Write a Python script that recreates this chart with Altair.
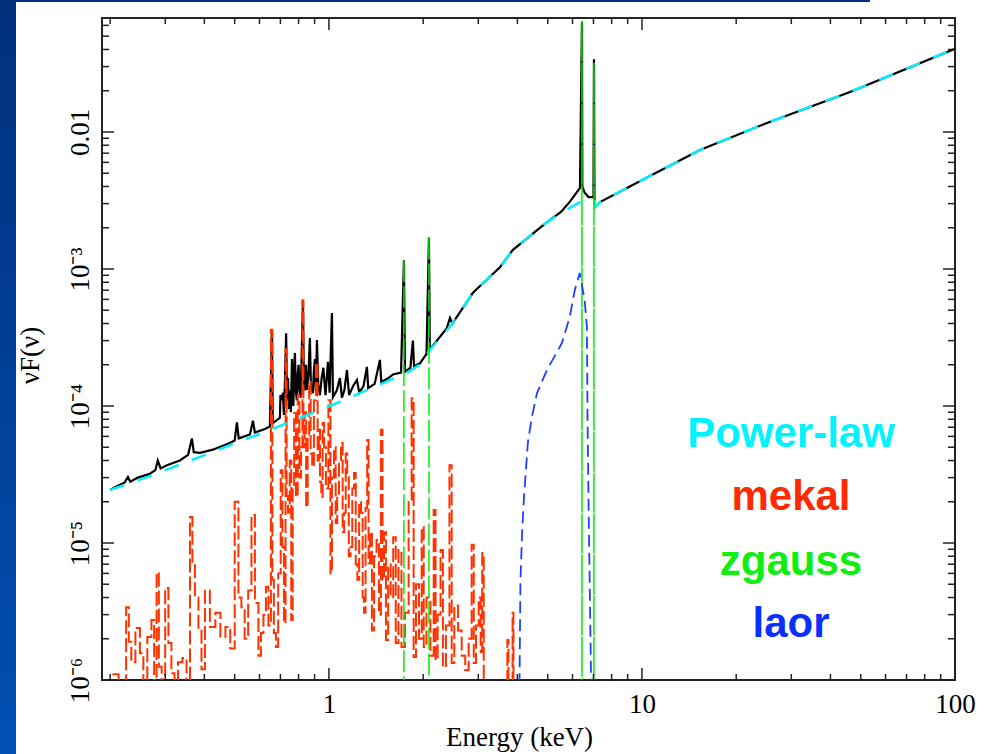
import altair as alt
import pandas as pd

# ---------------- data (energy keV, nuF(nu)) ----------------
powerlaw = [
    (0.200, 2.44e-5), (0.268, 3.08e-5), (0.3873, 4.25e-5), (0.494, 5.28e-5),
    (0.648, 6.68e-5), (0.808, 8.17e-5), (1.007, 1.0e-4), (1.11, 1.1e-4),
    (1.49, 1.47e-4), (1.77, 1.74e-4), (1.95, 2.0e-4), (2.10, 2.56e-4),
    (2.43, 3.77e-4), (2.88, 6.68e-4), (3.52, 1.03e-3), (3.87, 1.38e-3),
    (4.97, 2.2e-3), (5.88, 2.79e-3), (6.34, 3.08e-3), (7.05, 3.2e-3),
    (7.10, 2.84e-3), (7.34, 3.08e-3), (10.6, 4.77e-3), (15.32, 7.39e-3),
    (25.08, 1.164e-2), (46.2, 1.96e-2), (100.0, 4.05e-2),
]

total = [
    (0.200, 2.44e-5), (0.210, 2.6e-5), (0.222, 2.75e-5), (0.228, 3.03e-5),
    (0.232, 2.8e-5), (0.2453, 3.0e-5), (0.268, 3.2e-5), (0.279, 3.4e-5),
    (0.284, 4.0e-5), (0.290, 3.5e-5), (0.3038, 3.7e-5), (0.334, 4.0e-5),
    (0.355, 4.4e-5), (0.365, 5.8e-5), (0.370, 4.6e-5), (0.3873, 4.55e-5),
    (0.4258, 4.8e-5), (0.4758, 5.3e-5), (0.500, 5.6e-5), (0.5082, 7.6e-5),
    (0.515, 5.8e-5), (0.5594, 6.2e-5), (0.5719, 7.8e-5), (0.580, 6.4e-5),
    (0.6246, 6.8e-5), (0.6478, 7.1e-5), (0.6575, 3.65e-4), (0.6620, 7.5e-5),
    (0.6973, 8.2e-5), (0.7000, 1.2e-4), (0.7078, 1.1e-4), (0.7130, 1.25e-4),
    (0.7182, 8.6e-5), (0.7240, 1.6e-4), (0.7300, 3.4e-4), (0.7350, 1.1e-4),
    (0.7400, 1.6e-4), (0.7450, 9.5e-5), (0.7508, 1.3e-4), (0.7560, 9.0e-5),
    (0.7620, 2.2e-4), (0.7660, 1.2e-4), (0.7700, 1.0e-4), (0.7740, 1.9e-4),
    (0.7788, 2.44e-4), (0.7840, 1.3e-4), (0.7900, 1.1e-4), (0.7950, 1.7e-4),
    (0.8000, 2.0e-4), (0.8060, 1.3e-4), (0.8120, 1.15e-4), (0.8180, 2.3e-4),
    (0.826, 5.94e-4), (0.8320, 1.5e-4), (0.8381, 1.3e-4), (0.8440, 2.0e-4),
    (0.8506, 1.31e-4), (0.8600, 1.7e-4), (0.8694, 3.13e-4), (0.8760, 1.4e-4),
    (0.889, 1.24e-4), (0.8950, 1.8e-4), (0.902, 2.2e-4), (0.9080, 1.3e-4),
    (0.9155, 3.03e-4), (0.9250, 1.4e-4), (0.9359, 1.2e-4), (0.9480, 1.6e-4),
    (0.960, 1.9e-4), (0.975, 1.2e-4), (0.9927, 2.1e-4), (1.0050, 1.25e-4),
    (1.0223, 4.77e-4), (1.030, 1.16e-4), (1.0600, 1.3e-4), (1.0843, 1.6e-4),
    (1.100, 1.15e-4), (1.1200, 1.3e-4), (1.1417, 1.83e-4), (1.160, 1.2e-4),
    (1.1950, 1.4e-4), (1.229, 1.55e-4), (1.250, 1.25e-4), (1.2900, 1.4e-4),
    (1.3225, 1.93e-4), (1.335, 1.35e-4), (1.400, 1.45e-4), (1.455, 2.17e-4),
    (1.470, 1.5e-4), (1.5500, 1.6e-4), (1.6015, 1.7e-4), (1.700, 1.75e-4),
    (1.736, 1.16e-3), (1.750, 1.78e-4), (1.820, 1.9e-4), (1.855, 3.0e-4),
    (1.870, 1.95e-4), (1.953, 2.05e-4), (2.050, 2.4e-4), (2.087, 1.7e-3),
    (2.100, 2.6e-4), (2.200, 2.95e-4), (2.380, 3.7e-4), (2.436, 4.4e-4),
    (2.480, 4.0e-4), (2.884, 6.7e-4), (3.518, 1.03e-3), (3.871, 1.38e-3),
    (4.972, 2.2e-3), (5.500, 2.6e-3), (5.888, 3.1e-3), (6.338, 3.9e-3),
    (6.432, 0.064), (6.450, 4.0e-3), (6.560, 3.6e-3), (6.750, 3.35e-3),
    (7.000, 3.35e-3), (7.025, 0.034), (7.050, 3.3e-3), (7.077, 2.84e-3),
    (7.340, 3.08e-3), (10.6, 4.77e-3), (15.32, 7.39e-3), (25.08, 1.164e-2),
    (46.2, 1.96e-2), (100.0, 4.05e-2),
]

mekal = [
    (0.190, 7e-7), (0.200, 9e-7), (0.210, 1.1e-6), (0.216, 6e-7), (0.222, 8e-7),
    (0.228, 3.4e-6), (0.231, 1.9e-6), (0.2365, 1.35e-6), (0.2453, 2.4e-6),
    (0.2527, 1.57e-6), (0.258, 8e-7), (0.268, 2.06e-6), (0.274, 2.74e-6),
    (0.279, 9e-7), (0.284, 6.1e-6), (0.2884, 1.25e-6), (0.296, 8e-7),
    (0.3038, 4.7e-6), (0.3105, 1.86e-6), (0.3174, 1.12e-6), (0.325, 8e-7),
    (0.334, 1.35e-6), (0.3467, 1.45e-6), (0.355, 9e-7), (0.365, 1.55e-5),
    (0.3677, 7.1e-6), (0.3787, 4.0e-6), (0.3873, 2.3e-6), (0.396, 1.2e-6),
    (0.4076, 4.5e-6), (0.4258, 2.44e-6), (0.4418, 3.1e-6), (0.4584, 2.06e-6),
    (0.4758, 2.44e-6), (0.492, 1.7e-6), (0.5082, 2.0e-5), (0.5196, 4.0e-6),
    (0.531, 3.4e-6), (0.545, 2.0e-6), (0.5594, 4.5e-6), (0.5719, 1.6e-5),
    (0.5888, 3.65e-6), (0.602, 1.5e-6), (0.611, 2.2e-6), (0.6246, 3.0e-6),
    (0.6338, 4.8e-6), (0.6478, 2.5e-6), (0.6575, 3.6e-4), (0.6620, 5.4e-6),
    (0.6720, 2.2e-6), (0.6820, 1.74e-6), (0.6950, 6.0e-6), (0.7078, 3.4e-5),
    (0.7130, 9.35e-6), (0.7235, 2.6e-6), (0.7300, 2.6e-4), (0.7350, 2.2e-5),
    (0.745, 1.66e-5), (0.7540, 4.0e-5), (0.7619, 2.74e-6), (0.7700, 2.5e-5),
    (0.7788, 8.9e-5), (0.790, 2.17e-5), (0.800, 1.2e-4), (0.810, 3.0e-5),
    (0.8198, 5.0e-5), (0.826, 5.9e-4), (0.832, 5.0e-5), (0.841, 9.0e-5),
    (0.8506, 1.83e-5), (0.860, 6.0e-5), (0.8694, 1.5e-4), (0.879, 4.5e-5),
    (0.889, 3.59e-5), (0.902, 1.1e-4), (0.9155, 2.06e-4), (0.925, 4.0e-5),
    (0.932, 6.7e-5), (0.941, 2.8e-5), (0.9497, 2.17e-5), (0.960, 7.5e-5),
    (0.971, 5.0e-5), (0.985, 2.5e-5), (1.0074, 1.1e-4), (1.015, 6.0e-6),
    (1.030, 3.0e-5), (1.045, 5.0e-5), (1.057, 1.4e-5), (1.0685, 2.17e-5),
    (1.085, 4.0e-5), (1.1004, 5.37e-5), (1.112, 1.2e-5), (1.125, 1.66e-5),
    (1.138, 4.5e-5), (1.15, 3.24e-5), (1.165, 8.0e-6), (1.18, 9.35e-6),
    (1.195, 2.5e-5), (1.211, 3.24e-5), (1.225, 7.0e-6), (1.24, 5.4e-6),
    (1.258, 2.0e-5), (1.275, 1.66e-5), (1.288, 4.0e-6), (1.30, 3.1e-6),
    (1.318, 1.8e-5), (1.332, 5.65e-5), (1.345, 7.1e-6), (1.362, 1.2e-5),
    (1.3821, 2.3e-6), (1.405, 8.0e-6), (1.434, 1.05e-5), (1.455, 3.0e-6),
    (1.4764, 6.7e-5), (1.49, 5.4e-6), (1.510, 1.2e-5), (1.532, 1.96e-6),
    (1.560, 7.0e-6), (1.5897, 4.0e-6), (1.62, 1.1e-5), (1.6494, 1.86e-6),
    (1.6862, 8.9e-6), (1.7238, 1.74e-6), (1.775, 3.1e-6), (1.82, 2.0e-5),
    (1.855, 1.14e-4), (1.875, 1.47e-6), (1.92, 5.0e-6), (1.96, 2.0e-6),
    (1.997, 1.31e-5), (2.02, 1.74e-6), (2.08, 4.0e-6), (2.14, 1.5e-6),
    (2.182, 1.74e-5), (2.20, 1.4e-6), (2.25, 3.0e-6), (2.296, 8.9e-6),
    (2.33, 1.24e-6), (2.40, 2.5e-6), (2.4537, 3.7e-5), (2.48, 1.33e-6),
    (2.55, 3.5e-6), (2.621, 2.3e-6), (2.69, 1.5e-6), (2.761, 1.18e-6),
    (2.83, 2.0e-6), (2.884, 9.7e-6), (2.92, 1.33e-6), (2.98, 2.5e-6),
    (3.037, 4.0e-6), (3.07, 1.6e-6), (3.105, 8.45e-6), (3.14, 8.0e-7),
    (3.4, 4e-7), (3.70, 6e-7), (3.731, 1.96e-6), (3.76, 7e-7), (3.85, 8e-7),
    (3.871, 3.1e-6), (3.90, 6e-7), (4.2, 3e-7),
]

laor = [
    (4.05, 5e-7), (4.07, 1.5e-6), (4.09, 5.1e-6), (4.14, 1.18e-5),
    (4.20, 2.17e-5), (4.32, 5.4e-5), (4.45, 8.3e-5), (4.62, 1.24e-4),
    (4.97, 1.83e-4), (5.55, 2.88e-4), (5.88, 4.47e-4), (6.10, 7.0e-4),
    (6.33, 9.35e-4), (6.56, 5.9e-4), (6.67, 3.78e-4), (6.70, 8.3e-5),
    (6.76, 1.55e-5), (6.87, 1.2e-6), (6.90, 5e-7),
]

zgauss_E = [1.736, 2.087, 6.432, 7.025]
zgauss_peak = [1.16e-3, 1.7e-3, 0.064, 0.032]
zgauss_floor = 1e-6

x_major = [1, 10, 100]
x_minor = [0.2, 0.3, 0.4, 0.5, 0.6, 0.7, 0.8, 0.9,
           2, 3, 4, 5, 6, 7, 8, 9, 20, 30, 40, 50, 60, 70, 80, 90]
y_major = [1e-6, 1e-5, 1e-4, 1e-3, 1e-2]
y_minor = [2e-6, 3e-6, 4e-6, 5e-6, 6e-6, 7e-6, 8e-6, 9e-6,
           2e-5, 3e-5, 4e-5, 5e-5, 6e-5, 7e-5, 8e-5, 9e-5,
           2e-4, 3e-4, 4e-4, 5e-4, 6e-4, 7e-4, 8e-4, 9e-4,
           2e-3, 3e-3, 4e-3, 5e-3, 6e-3, 7e-3, 8e-3, 9e-3,
           2e-2, 3e-2, 4e-2, 5e-2, 6e-2]

legend_names = ["Power-law", "mekal", "zgauss", "laor"]
legend_colors = ["#00f4ff", "#ff2a00", "#10ee10", "#0a30ff"]

# ---------------- layout ----------------
W, H = 853, 662
SERIF = "Liberation Serif"
SANS = "Liberation Sans"


def frame(pairs):
    return pd.DataFrame({"E": [p[0] for p in pairs],
                         "F": [p[1] for p in pairs],
                         "i": list(range(len(pairs)))})


xs = alt.Scale(type="log", domain=[0.1884, 100], nice=False)
ys = alt.Scale(type="log", domain=[1e-6, 0.0679], nice=False)

x_axis = alt.Axis(
    values=x_major, labelExpr="format(datum.value, '~g')",
    ticks=False, tickSize=0, domain=False, grid=False,
    labelFont=SERIF, labelFontSize=27, labelColor="black",
    labelBaseline="alphabetic", labelPadding=32, labelFlush=False,
    labelOverlap=False,
    title="Energy (keV)", titleFont=SERIF, titleFontSize=27,
    titleFontWeight="normal", titleColor="black",
    titleX=417, titleY=65, titleAlign="center", titleBaseline="alphabetic",
)
y_axis = alt.Axis(
    values=y_major,
    labelExpr="datum.value > 0.005 ? '0.01' : datum.value > 0.0005 ? '10⁻³' : "
              "datum.value > 0.00005 ? '10⁻⁴' : datum.value > 0.000005 ? '10⁻⁵' : '10⁻⁶'",
    ticks=False, tickSize=0, domain=False, grid=False,
    labelFont=SERIF, labelFontSize=27, labelColor="black",
    labelAngle=270, labelAlign="center", labelBaseline="alphabetic",
    labelPadding=14, labelFlush=False, labelOverlap=False,
    title="νF(ν)", titleFont=SERIF, titleFontSize=27, titleFontWeight="normal",
    titleColor="black", titleAngle=270, titleX=-64, titleY=337,
    titleAlign="center", titleBaseline="alphabetic",
)


def X(field="E"):
    return alt.X(f"{field}:Q", scale=xs, axis=x_axis)


def Y(field="F"):
    return alt.Y(f"{field}:Q", scale=ys, axis=y_axis)


# decorations of the slide (outside plot)
strip = alt.Chart(alt.Data(values=[{}])).mark_rect(
    clip=False,
    color=alt.LinearGradient(
        gradient="linear", x1=0, x2=0, y1=0, y2=1,
        stops=[alt.GradientStop(color="#00307c", offset=0),
               alt.GradientStop(color="#0050b4", offset=1)]),
).encode(x=alt.value(-102), x2=alt.value(-86), y=alt.value(-18), y2=alt.value(736))

topline = alt.Chart(alt.Data(values=[{}])).mark_rect(clip=False, color="#00307c").encode(
    x=alt.value(-102), x2=alt.value(768), y=alt.value(-18), y2=alt.value(-16))

black = alt.Chart(frame(total)).mark_line(color="black", strokeWidth=2.2, clip=True).encode(
    x=X(), y=Y(), order="i:Q")

red = alt.Chart(frame(mekal)).mark_line(
    color="#ff3300", strokeWidth=2, strokeDash=[14, 4], interpolate="step",
    clip=True).encode(x=X(), y=Y(), order="i:Q")

cyan = alt.Chart(frame(powerlaw)).mark_line(
    color="#00f0ff", strokeWidth=2.5, strokeDash=[15, 14], clip=True).encode(
    x=X(), y=Y(), order="i:Q")

gdf = pd.DataFrame({"E": zgauss_E, "peak": zgauss_peak,
                    "lo": [zgauss_floor] * len(zgauss_E)})
green_soft = alt.Chart(gdf.iloc[:2]).mark_rule(
    color="#00ee00", strokeWidth=1.5, strokeDash=[22, 4], clip=True).encode(
    x=X(), y=Y("peak"), y2="lo:Q")
green_hard = alt.Chart(gdf.iloc[2:]).mark_rule(
    color="#00ee00", strokeWidth=1.5, strokeDash=[40, 1], clip=True).encode(
    x=X(), y=Y("peak"), y2="lo:Q")

blue = alt.Chart(frame(laor)).mark_line(
    color="#1f40ff", strokeWidth=1.8, strokeDash=[12, 6], clip=True).encode(
    x=X(), y=Y(), order="i:Q")

# frame ticks (inside, on all four sides)
TICK = "#222222"
xM = pd.DataFrame({"E": x_major})
xm = pd.DataFrame({"E": x_minor})
yM = pd.DataFrame({"F": y_major})
ym = pd.DataFrame({"F": y_minor})


def xticks(d, length):
    bottom = alt.Chart(d).mark_rule(color=TICK, strokeWidth=1.5).encode(
        x=X(), y=alt.value(H), y2=alt.value(H - length))
    top = alt.Chart(d).mark_rule(color=TICK, strokeWidth=1.5).encode(
        x=X(), y=alt.value(0), y2=alt.value(length))
    return [bottom, top]


def yticks(d, length):
    left = alt.Chart(d).mark_rule(color=TICK, strokeWidth=1.5).encode(
        y=Y(), x=alt.value(0), x2=alt.value(length))
    right = alt.Chart(d).mark_rule(color=TICK, strokeWidth=1.5).encode(
        y=Y(), x=alt.value(W), x2=alt.value(W - length))
    return [left, right]


ticks = xticks(xM, 12) + xticks(xm, 6) + yticks(yM, 12) + yticks(ym, 7)

# coloured component labels
label_y = [429, 492, 557, 619]
labels = []
for name, col, yy in zip(legend_names, legend_colors, label_y):
    d = alt.Data(values=[{"t": name}])
    labels.append(alt.Chart(d).mark_text(
        font=SANS, fontSize=42, fontWeight="bold", color=col,
        align="center", baseline="alphabetic").encode(
        text="t:N", x=alt.value(689), y=alt.value(yy)))

chart = alt.layer(
    strip, topline, black, red, cyan, green_soft, green_hard, blue, *ticks, *labels
).properties(
    width=W, height=H,
    padding={"left": 102, "top": 18, "right": 29, "bottom": 74},
    autosize=alt.AutoSizeParams(type="none"),
    background="white",
).configure_view(stroke="#222222", strokeWidth=2)

chart.save("out.html", embed_options={"renderer": "svg", "actions": False})
